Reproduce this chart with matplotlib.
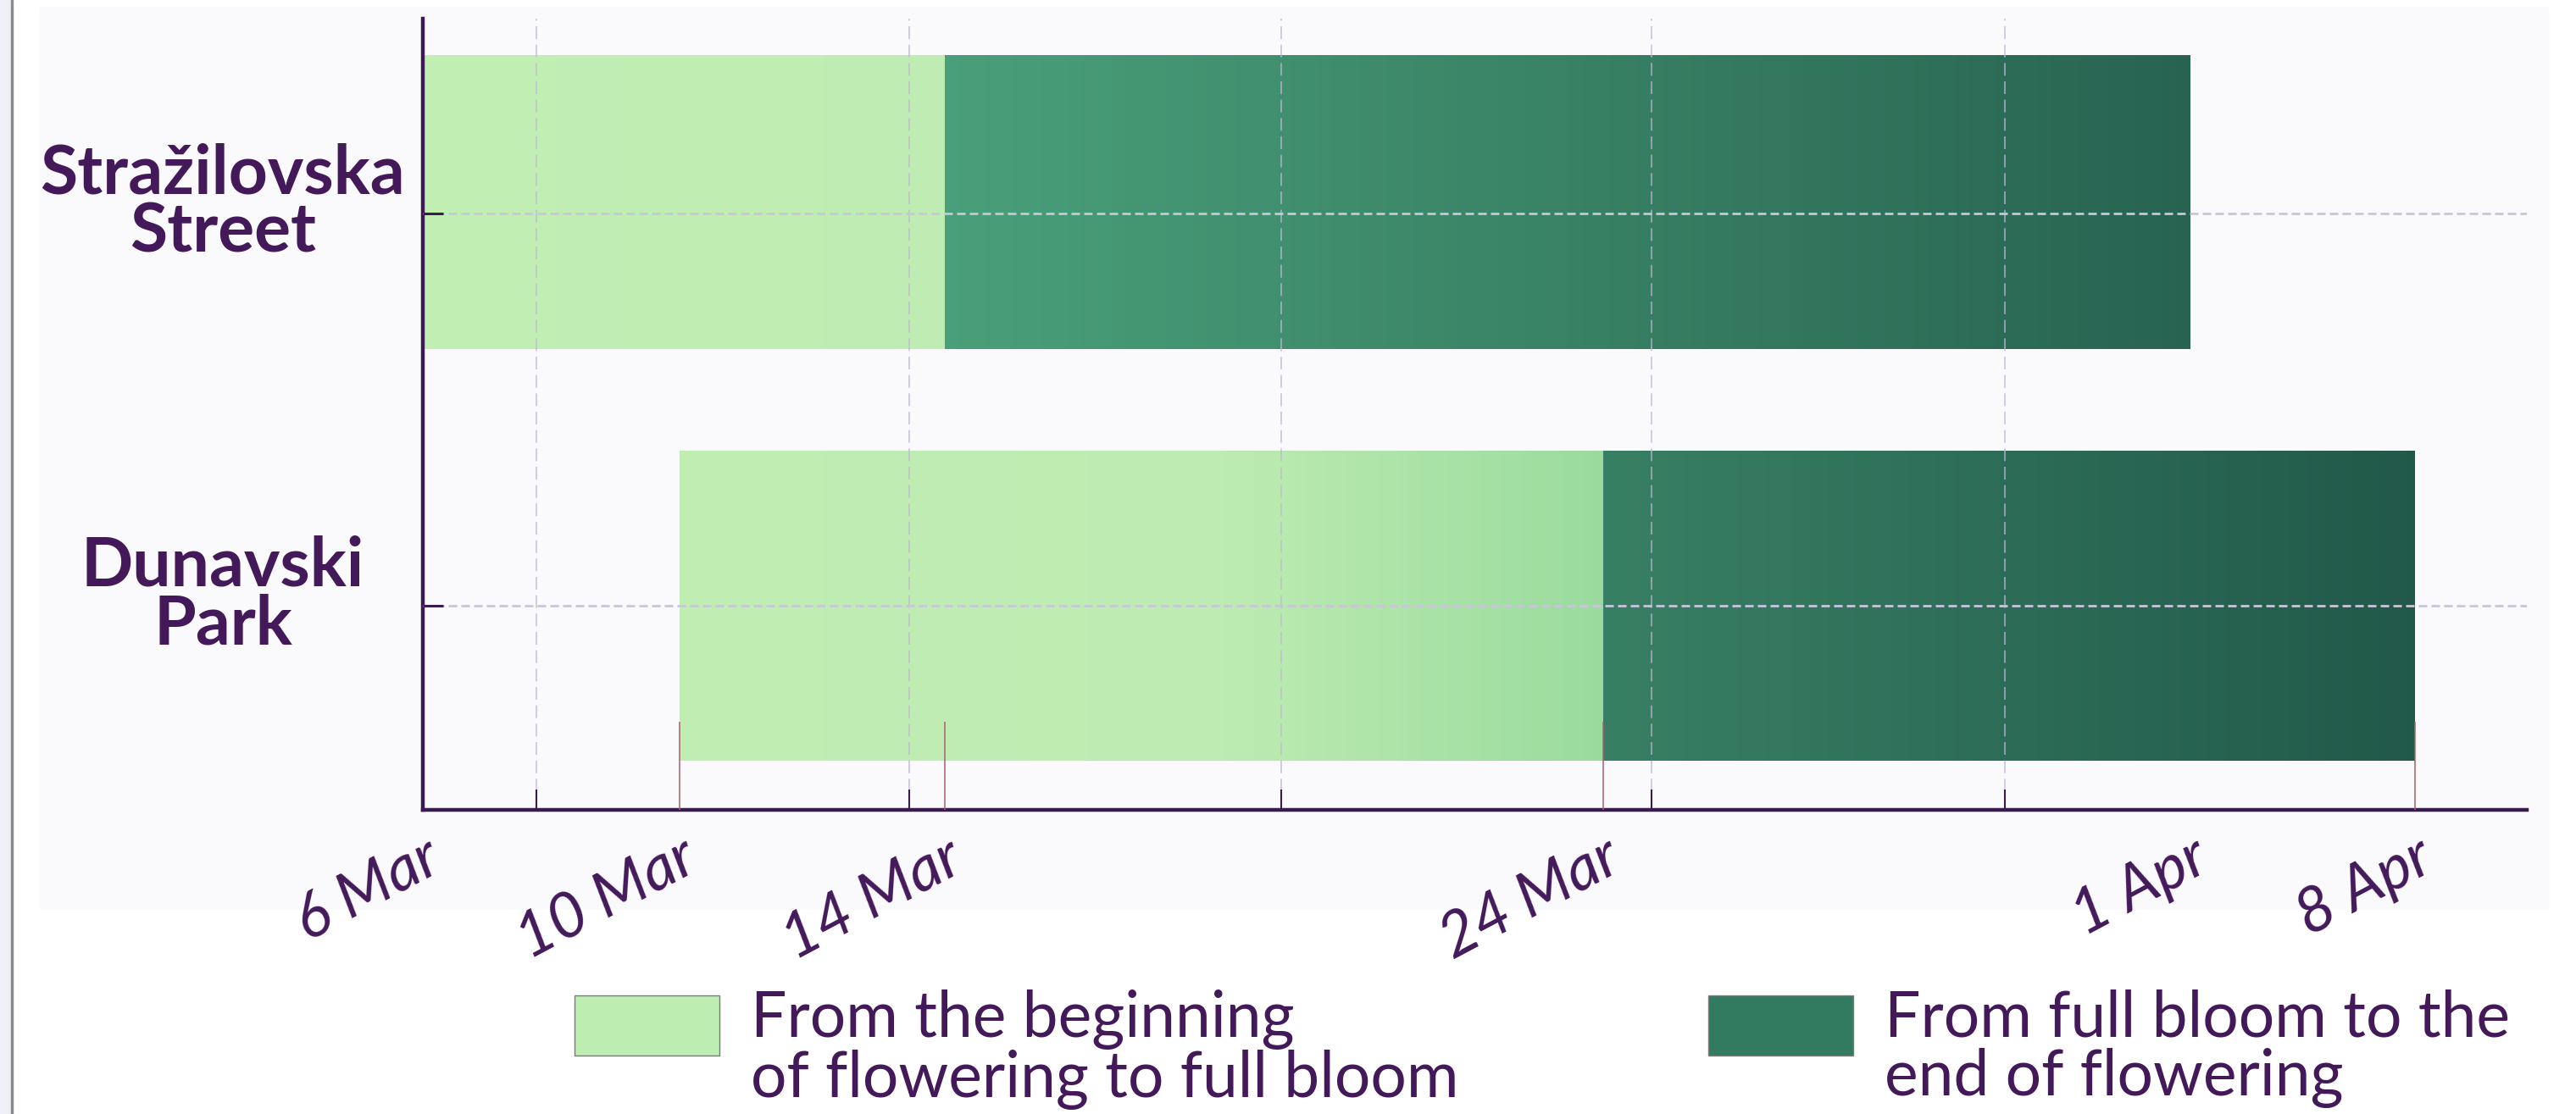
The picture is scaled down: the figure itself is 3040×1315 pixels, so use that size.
import numpy as np
import matplotlib.pyplot as plt
from matplotlib.patches import Rectangle
from matplotlib.colors import to_rgb
from matplotlib.transforms import offset_copy

# data
sites = ['Dunavski\nPark', 'Stražilovska\nStreet']
flower_start = np.array(['2024-03-10', '2024-03-06'], dtype='datetime64[D]')
full_bloom = np.array(['2024-03-24', '2024-03-14'], dtype='datetime64[D]')
flower_end = np.array(['2024-04-08', '2024-04-01'], dtype='datetime64[D]')
tick_dates = np.array(['2024-03-06', '2024-03-10', '2024-03-14',
                       '2024-03-24', '2024-04-01', '2024-04-08'], dtype='datetime64[D]')
tick_labels = ['6 Mar', '10 Mar', '14 Mar', '24 Mar', '1 Apr', '8 Apr']
legend_labels = ['From the beginning\nof flowering to full bloom',
                 'From full bloom to the\nend of flowering']

purple = '#43195A'
spine_c = '#3B1A4F'
# colour along the axis (fraction of width) for each phase
light_stops = ([0.0, 0.38, 0.57], ['#C0EEB3', '#BDEBB1', '#98DA9C'])
dark_stops = ([0.24, 0.95], ['#4AA07A', '#215849'])
legend_cols = ['#BDEDB1', '#327A60']

bar_h = [0.79, 0.75]
bar_shift = [0.0, 0.03]


def days(d):
    return (d - tick_dates[0]).astype(int)


# the original time axis is not linear: tick dates -> axis fraction
wd = np.r_[-30, days(tick_dates), 60].astype(float)
wp = np.r_[-0.915, [0, 0.122, 0.248, 0.561, 0.840, 0.947], 1.36]


def fwd(x):
    return np.interp(x, wd, wp)


def inv(y):
    return np.interp(y, wp, wd)


fig = plt.figure(figsize=(30.4, 13.15), dpi=100, facecolor='white')
# page background
fig.add_artist(Rectangle((0, 0), 13 / 3040, 1, transform=fig.transFigure,
                         color='#EEF0F5', zorder=-10))
fig.add_artist(Rectangle((13 / 3040, 0), 1.5 / 3040, 1, transform=fig.transFigure,
                         color='#8A8A8A', zorder=-9))
fig.add_artist(Rectangle((47 / 3040, 243 / 1315), 2960 / 3040, 1064 / 1315,
                         transform=fig.transFigure, color='#FAF9FC', zorder=-10))

ax = fig.add_axes([499 / 3040, 359 / 1315, 2483 / 3040, 934 / 1315])
ax.set_facecolor('none')
ax.set_xscale('function', functions=(fwd, inv))
ax.set_xlim(0, inv(1.0))
ax.set_ylim(-0.5205, 1.4968)

y = np.arange(len(sites))


def grad_bar(yy, hh, s, e, stops):
    # gradient bar made of thin slices, equal width on screen
    n = 90
    edges = inv(np.linspace(fwd(s), fwd(e), n + 1))
    mid = fwd((edges[:-1] + edges[1:]) / 2)
    rgb = np.array([to_rgb(c) for c in stops[1]])
    cs = np.column_stack([np.interp(mid, stops[0], rgb[:, k]) for k in range(3)])
    ax.barh(yy, e - s, left=s, height=hh, color=cs[n // 2], linewidth=0, zorder=1)
    ax.barh(np.full(n, yy), np.diff(edges), left=edges[:-1], height=hh,
            color=cs, linewidth=0, zorder=1.1)


for i in range(len(sites)):
    s, m, e = days(flower_start)[i], days(full_bloom)[i], days(flower_end)[i]
    grad_bar(y[i] + bar_shift[i], bar_h[i], s, m, light_stops)
    grad_bar(y[i] + bar_shift[i], bar_h[i], m, e, dark_stops)

for side in ['top', 'right']:
    ax.spines[side].set_visible(False)
for side in ['left', 'bottom']:
    ax.spines[side].set_color(spine_c)
    ax.spines[side].set_linewidth(3.2)

ax.set_axisbelow(False)

# x: plain grid ticks + labelled date ticks
grid_frac = np.array([0.054, 0.231, 0.408, 0.584, 0.752])
ax.set_xticks(inv(grid_frac))
ax.set_xticks(days(tick_dates), tick_labels, minor=True, rotation=28, ha='right',
              va='top', rotation_mode='anchor', fontsize=53, style='italic',
              color=purple, family='Lato')
ax.tick_params(axis='x', which='major', direction='in', length=17, width=1.5,
               color=spine_c, labelbottom=False)
ax.tick_params(axis='x', which='minor', direction='in', length=75, width=1.1,
               color='#A5626F', pad=16)
for k in (0, 4):
    ax.xaxis.get_minor_ticks()[k].tick1line.set_visible(False)
ax.xaxis.grid(True, which='major', color='#BDB8D3', alpha=0.8, linewidth=1.2,
              linestyle=(0, (9, 4)))

ax.set_yticks(y, sites, fontsize=58, fontweight='bold', color=purple, ha='center',
              va='center', multialignment='center', linespacing=0.92, family='Lato')
ax.tick_params(axis='y', direction='in', length=17, width=2.2, color=spine_c, pad=170)
ax.yaxis.grid(True, color='#C9C5DC', linewidth=2, linestyle=(0, (3.6, 1.8)))
# labels sit a little above their ticks in the original
for lab in ax.get_yticklabels():
    lab.set_transform(offset_copy(lab.get_transform(), fig=fig, y=12, units='dots'))

# legend
for x0, col, lab in zip([678, 2016], legend_cols, legend_labels):
    fig.add_artist(Rectangle((x0 / 3040, 69 / 1315), 171 / 3040, 71 / 1315,
                             transform=fig.transFigure, facecolor=col,
                             edgecolor='#7A7A7A', linewidth=1))
    fig.text((x0 + 208) / 3040, 1 - 1168 / 1315, lab, ha='left', va='top',
             fontsize=54, fontweight='normal', color=purple, linespacing=1.0,
             family='Lato')

fig.savefig('out.png', dpi=100)
